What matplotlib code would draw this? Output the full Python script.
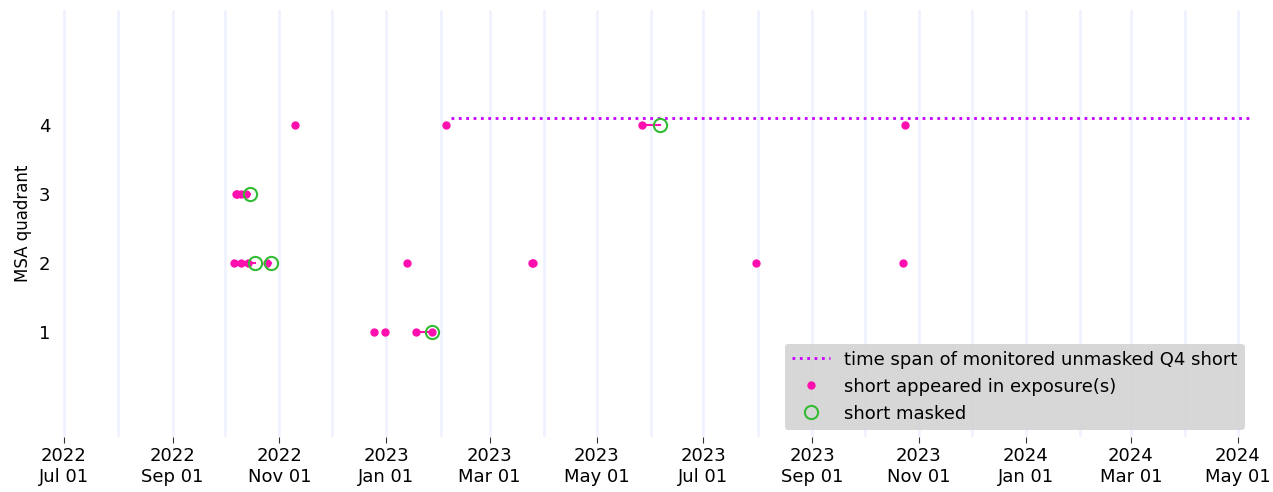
import matplotlib
matplotlib.use("Agg")
import matplotlib.pyplot as plt
import matplotlib.dates as mdates
import numpy as np
import pandas as pd

# ---- data ----
q1_dates = ["2022-12-25", "2022-12-31", "2023-01-18", "2023-01-27"]
q2_dates = ["2022-10-06", "2022-10-10", "2022-10-14", "2022-10-25", "2023-01-13",
            "2023-03-25", "2023-03-26", "2023-07-31", "2023-10-23"]
q3_dates = ["2022-10-07", "2022-10-08", "2022-10-10", "2022-10-13"]
q4_dates = ["2022-11-10", "2023-02-04", "2023-05-27", "2023-10-24"]

masked_quadrant = [3, 2, 2, 1, 4]
masked_dates = ["2022-10-15", "2022-10-18", "2022-10-27", "2023-01-27", "2023-06-06"]
masked_last_seen = ["2022-10-13", "2022-10-14", "2022-10-25", "2023-01-18", "2023-05-27"]

monitor_start = "2023-02-07"
monitor_end = "2024-05-09"
monitor_level = 4.1

quadrants = [1, 2, 3, 4]

# ---- styles ----
DOT = "#ff0fae"
RING = "#33bb33"
SPAN = "#c800ff"

fig = plt.figure(figsize=(12.73, 4.92), dpi=100)
ax = fig.add_axes([55 / 1273, 1 - 437 / 492, (1258 - 55) / 1273, (437 - 10) / 492])

for t, m, q in zip(masked_last_seen, masked_dates, masked_quadrant):
    ax.plot(pd.to_datetime([t, m]), [q, q], color=DOT, lw=1.5, zorder=2)

ax.plot(pd.to_datetime([monitor_start, monitor_end]), [monitor_level, monitor_level],
        ls=":", color=SPAN, lw=2, zorder=2, label="time span of monitored unmasked Q4 short")

first = True
for q, ds in zip(quadrants, [q1_dates, q2_dates, q3_dates, q4_dates]):
    ax.plot(pd.to_datetime(ds), [q] * len(ds), "o", color=DOT, ms=5, zorder=3,
            label="short appeared in exposure(s)" if first else None)
    first = False

ax.plot(pd.to_datetime(masked_dates), masked_quadrant, "o", mfc="none", mec=RING,
        ms=9.5, mew=1.5, zorder=4, label="short masked")

ax.set_xlim(pd.Timestamp("2022-06-25 22:00"), pd.Timestamp("2024-05-12 12:00"))
ax.set_ylim(-0.522, 5.667)
ax.set_yticks(quadrants)
ax.set_ylabel("MSA quadrant", fontsize=12, labelpad=5)

ax.xaxis.set_major_locator(mdates.MonthLocator(bymonth=[1, 3, 5, 7, 9, 11]))
ax.xaxis.set_minor_locator(mdates.MonthLocator())
ax.xaxis.set_major_formatter(mdates.DateFormatter("%Y\n%b %d"))
ax.tick_params(axis="x", which="major", length=4, labelsize=13, color="#333333")
ax.tick_params(axis="x", which="minor", length=0)
ax.tick_params(axis="y", length=0, labelsize=13)
ax.grid(True, axis="x", which="both", color="#f0f3fe", lw=2)
ax.set_axisbelow(True)
for s in ax.spines.values():
    s.set_visible(False)

leg = ax.legend(loc="lower right", fontsize=13, facecolor="#d3d3d3", framealpha=0.9,
                edgecolor="none", borderaxespad=0, handlelength=2.1, handletextpad=0.8,
                bbox_to_anchor=(1245 / 1273, 1 - 430 / 492), bbox_transform=fig.transFigure)

fig.savefig("out.png", dpi=100)
